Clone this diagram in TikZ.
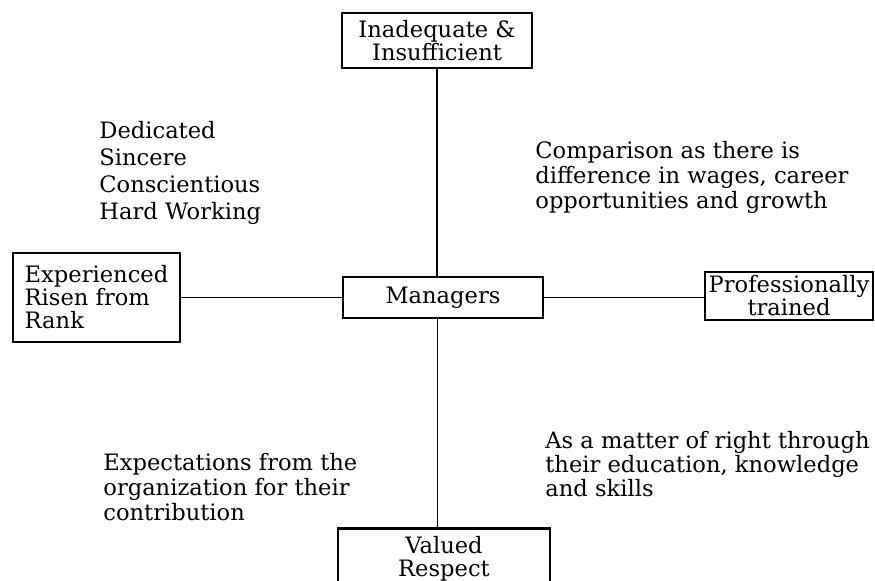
\documentclass[tikz,border=0pt]{standalone}
\usepackage{fontspec}
\setmainfont{DejaVu Serif}
\begin{document}
\begin{tikzpicture}[x=0.5pt, y=-0.5pt,
    box/.style={draw, line width=1.4pt, inner sep=1pt, align=center,
        font=\fontsize{11.3}{11.5}\selectfont},
    note/.style={anchor=north west, inner sep=0pt, align=left,
        font=\fontsize{11.3}{12.5}\selectfont},
    link/.style={line width=0.8pt}]
    \clip (0,0) rectangle (875,581);

    % Central node and the four boxes round it
    \node[box, minimum width=100pt, minimum height=20.5pt] (mgr) at (443,297.5) {Managers};
    \node[box, minimum width=95pt, minimum height=27.5pt] (inad) at (437,40.5) {Inadequate \&\\Insufficient};
    \node[box, minimum width=83.5pt, minimum height=44.5pt, align=left] (exp) at (96.5,297.5) {Experienced\\Risen from\\Rank};
    \node[box, minimum width=84pt, minimum height=24pt, inner sep=0pt] (prof) at (789,296) {Professionally\\trained};
    \node[box, anchor=north, minimum width=106pt, minimum height=30pt] (valued) at (444,527) {Valued\\Respect};

    % Connectors
    \draw[link, line width=1pt] (inad.south) -- (inad.south |- mgr.north);
    \draw[link] (exp.east) -- (exp.east -| mgr.west);
    \draw[link] (mgr.east) -- (mgr.east -| prof.west);
    \draw[link, line width=0.5pt] (mgr.south -| inad.south) -- (valued.north -| inad.south);

    % Notes in the four quarters
    \node[note, font=\fontsize{11.3}{13.5}\selectfont] (qual) at (99,121) {Dedicated\\Sincere\\Conscientious\\Hard Working};
    \node[note] (comp) at (535,141) {Comparison as there is\\difference in wages, career\\opportunities and growth};
    \node[note] (expect) at (103,453) {Expectations from the\\organization for their\\contribution};
    \node[note, font=\fontsize{11.3}{12}\selectfont] (right) at (545,431) {As a matter of right through\\their education, knowledge\\and skills};
\end{tikzpicture}
\end{document}
